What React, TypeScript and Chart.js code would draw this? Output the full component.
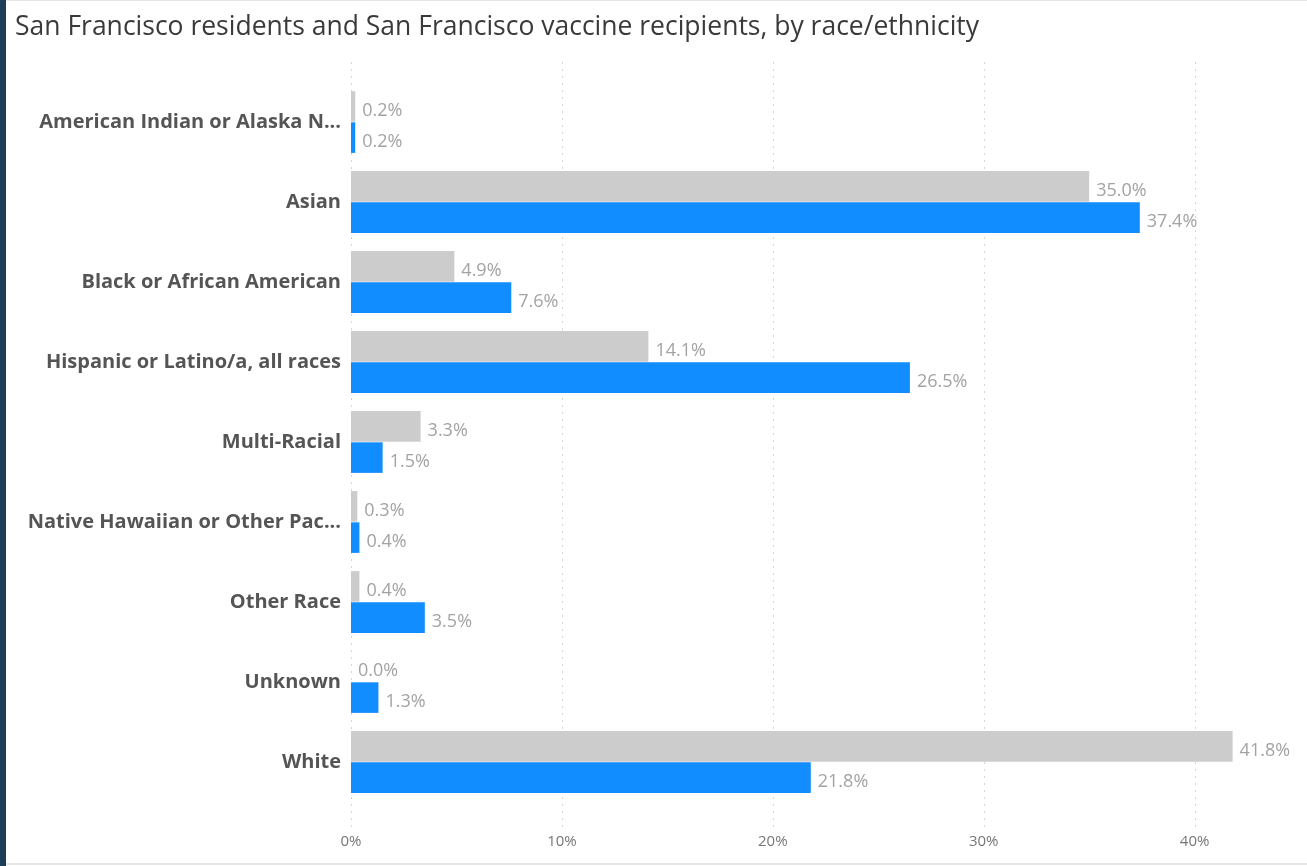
import React, { useEffect, useRef } from "react";
import { Chart, registerables } from "chart.js";

Chart.register(...registerables);

const categories = [
  "American Indian or Alaska N...",
  "Asian",
  "Black or African American",
  "Hispanic or Latino/a, all races",
  "Multi-Racial",
  "Native Hawaiian or Other Pac...",
  "Other Race",
  "Unknown",
  "White",
];
const residents = [0.2, 35.0, 4.9, 14.1, 3.3, 0.3, 0.4, 0.0, 41.8];
const recipients = [0.2, 37.4, 7.6, 26.5, 1.5, 0.4, 3.5, 1.3, 21.8];
const xTicks = [0, 10, 20, 30, 40];

const FONT = "'Open Sans', 'Noto Sans', 'DejaVu Sans', sans-serif";

const gridPlugin = {
  id: "dottedGrid",
  beforeDatasetsDraw(chart: any) {
    const { ctx, chartArea } = chart;
    const xs = chart.scales.x;
    ctx.save();
    ctx.setLineDash([2, 5]);
    ctx.strokeStyle = "#d6d6d6";
    ctx.lineWidth = 1;
    xTicks.forEach((v) => {
      const px = Math.round(xs.getPixelForValue(v)) + 0.5;
      ctx.beginPath();
      ctx.moveTo(px, chartArea.top - 20);
      ctx.lineTo(px, chartArea.bottom + 26);
      ctx.stroke();
    });
    ctx.restore();
  },
};

const labelPlugin = {
  id: "barLabels",
  afterDatasetsDraw(chart: any) {
    const { ctx } = chart;
    ctx.save();
    ctx.font = `18px ${FONT}`;
    ctx.fillStyle = "#a3a3a3";
    ctx.textAlign = "left";
    ctx.textBaseline = "middle";
    chart.data.datasets.forEach((ds: any, di: number) => {
      const meta = chart.getDatasetMeta(di);
      meta.data.forEach((el: any, i: number) => {
        const v = ds.data[i] as number;
        ctx.fillText(v.toFixed(1) + "%", el.x + 7, el.y + 4);
      });
    });
    ctx.restore();
  },
};

export default function App() {
  const ref = useRef<HTMLCanvasElement | null>(null);

  useEffect(() => {
    if (!ref.current) return;
    const chart = new Chart(ref.current, {
      type: "bar",
      data: {
        labels: categories,
        datasets: [
          {
            label: "San Francisco residents",
            data: residents,
            backgroundColor: "#cccccc",
            categoryPercentage: 0.78,
            barPercentage: 0.98,
          },
          {
            label: "San Francisco vaccine recipients",
            data: recipients,
            backgroundColor: "#118dff",
            categoryPercentage: 0.78,
            barPercentage: 0.98,
          },
        ],
      },
      options: {
        indexAxis: "y",
        animation: false,
        responsive: false,
        maintainAspectRatio: false,
        layout: { padding: { top: 82, right: 28, bottom: 14, left: 0 } },
        plugins: {
          legend: { display: false },
          tooltip: { enabled: false },
          title: { display: false },
        },
        scales: {
          x: {
            min: 0,
            max: 44,
            grid: { display: false, drawTicks: false },
            border: { display: false },
            afterBuildTicks: (s: any) => {
              s.ticks = xTicks.map((v) => ({ value: v }));
            },
            afterFit: (s: any) => {
              s.height = 50;
            },
            ticks: {
              padding: 31,
              color: "#777777",
              font: { family: FONT, size: 15 },
              callback: (v: any) => v + "%",
            },
          },
          y: {
            grid: { display: false, drawTicks: false },
            border: { display: false },
            afterFit: (s: any) => {
              s.width = 345;
            },
            ticks: {
              padding: 10,
              color: "#555555",
              font: { family: FONT, size: 20, weight: "bold" },
            },
          },
        },
      },
      plugins: [gridPlugin, labelPlugin],
    });
    return () => chart.destroy();
  }, []);

  return (
    <div
      style={{
        position: "fixed",
        left: 0,
        top: 0,
        width: 1307,
        height: 866,
        background: "#ffffff",
        overflow: "hidden",
      }}
    >
      <div style={{ position: "absolute", left: 6, top: 0, width: 1301, height: 866 }}>
        <canvas ref={ref} width={1301} height={866} style={{ width: 1301, height: 866 }} />
      </div>
      <div style={{ position: "absolute", left: 0, top: 0, width: 6, height: 866, background: "#1d3c58" }} />
      <div style={{ position: "absolute", left: 6, top: 0, right: 0, height: 1, background: "#e6e6e6" }} />
      <div style={{ position: "absolute", left: 6, bottom: 1, right: 0, height: 2, background: "#e6e6e6" }} />
      <div
        style={{
          position: "absolute",
          left: 15,
          top: 8,
          lineHeight: "34px",
          fontSize: 26.5,
          fontFamily: FONT,
          color: "#3a3a3a",
          whiteSpace: "nowrap",
        }}
      >
        San Francisco residents and San Francisco vaccine recipients, by race/ethnicity
      </div>
    </div>
  );
}
